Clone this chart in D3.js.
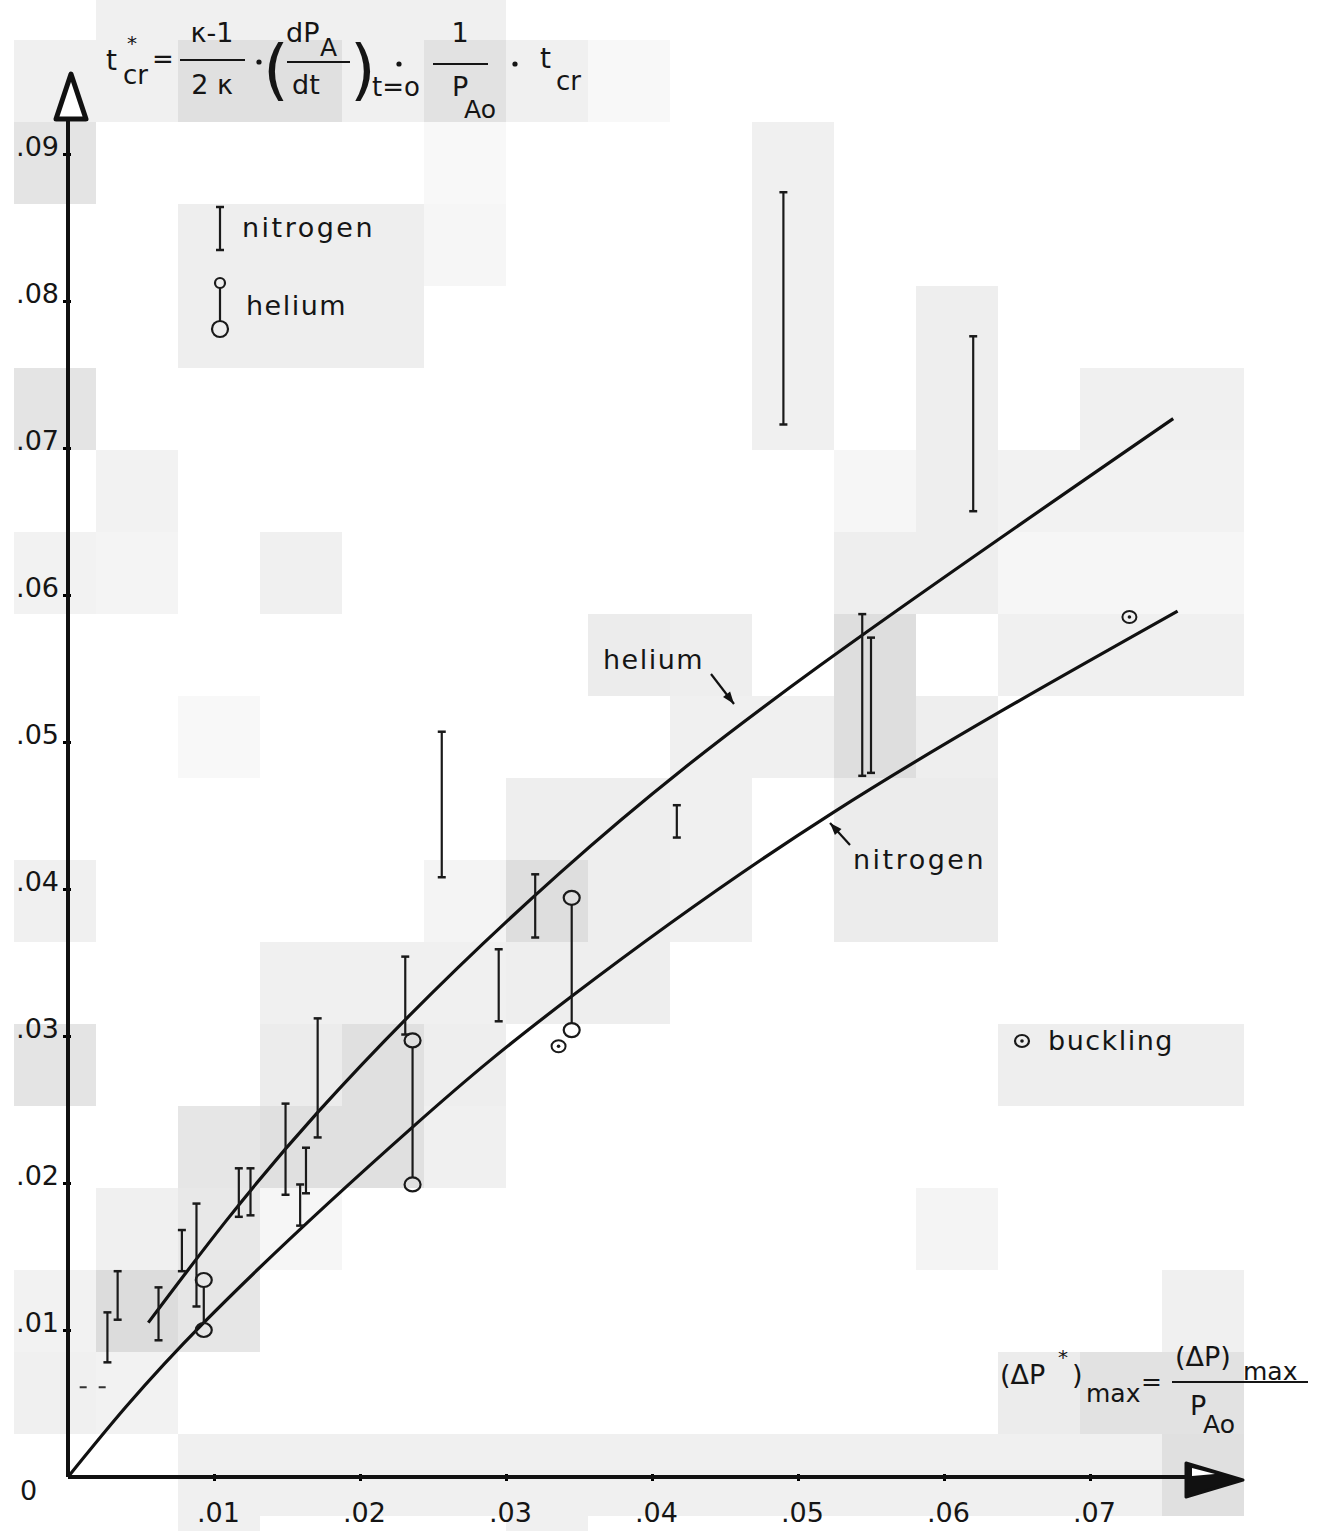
<!DOCTYPE html>
<html>
<head>
<meta charset="utf-8">
<script src="https://cdn.jsdelivr.net/npm/d3@7"></script>
<style>
  body { margin: 0; background: #fff; }
  text { font-family: "DejaVu Sans", sans-serif; fill: #151515; }
</style>
</head>
<body>
<svg id="chart" width="1319" height="1531"></svg>
<script>
// values
const xTicks = [0.01, 0.02, 0.03, 0.04, 0.05, 0.06, 0.07];
const yTicks = [0.01, 0.02, 0.03, 0.04, 0.05, 0.06, 0.07, 0.08, 0.09];

// nitrogen runs: [dP*max, t*cr low, t*cr high]
const nitrogenBars = [
  [0.0027, 0.0078, 0.0112], [0.0034, 0.0107, 0.0140], [0.0062, 0.0093, 0.0129],
  [0.0078, 0.0140, 0.0168], [0.0088, 0.0116, 0.0186], [0.0117, 0.0177, 0.0210],
  [0.0125, 0.0178, 0.0210], [0.0149, 0.0192, 0.0254], [0.0163, 0.0193, 0.0224],
  [0.0159, 0.0171, 0.0199], [0.0171, 0.0231, 0.0312], [0.0231, 0.0301, 0.0354],
  [0.0256, 0.0408, 0.0507], [0.0295, 0.0310, 0.0359], [0.0320, 0.0367, 0.0410],
  [0.0417, 0.0435, 0.0457], [0.0490, 0.0716, 0.0874], [0.0544, 0.0477, 0.0587],
  [0.0550, 0.0479, 0.0571], [0.0620, 0.0657, 0.0776]
];
// helium runs: [dP*max, t*cr low, t*cr high]
const heliumBars = [
  [0.0093, 0.0100, 0.0134], [0.0236, 0.0199, 0.0297], [0.0345, 0.0304, 0.0394]
];
const bucklingPoints = [[0.0336, 0.0293], [0.0727, 0.0585]];

const heliumCurve = [
  [0.0055, 0.0105], [0.0171, 0.0248], [0.0337, 0.0411], [0.0515, 0.0552], [0.0757, 0.0720]
];
const nitrogenCurve = [
  [0, 0], [0.0093, 0.0105], [0.0236, 0.0238], [0.0345, 0.0327], [0.0524, 0.0452], [0.0760, 0.0589]
];

// scan background tiles: [column, row, grey]
const tiles = [
  [1,-1,240],[2,-1,240],[3,-1,240],[4,-1,240],[5,-1,240],
  [0,0,240],[1,0,240],[2,0,224],[3,0,224],[4,0,240],[5,0,226],[6,0,240],[7,0,248],
  [0,1,228],[5,1,248],[9,1,240],
  [2,2,238],[3,2,238],[4,2,238],[5,2,246],[9,2,240],
  [2,3,238],[3,3,238],[4,3,238],[9,3,240],[11,3,238],
  [0,4,228],[9,4,240],[11,4,238],[13,4,240],[14,4,240],
  [1,5,242],[10,5,246],[11,5,238],[12,5,242],[13,5,242],[14,5,242],
  [0,6,242],[1,6,244],[3,6,240],[10,6,238],[11,6,238],[12,6,246],[13,6,246],[14,6,246],
  [7,7,236],[8,7,238],[10,7,222],[12,7,240],[13,7,240],[14,7,240],
  [2,8,248],[8,8,240],[9,8,240],[10,8,222],[11,8,238],
  [6,9,238],[7,9,238],[8,9,240],[10,9,236],[11,9,236],
  [0,10,240],[5,10,244],[6,10,222],[7,10,238],[8,10,240],[10,10,236],[11,10,236],
  [3,11,240],[4,11,240],[5,11,240],[6,11,238],[7,11,238],
  [0,12,228],[3,12,236],[4,12,224],[5,12,238],[12,12,238],[13,12,238],[14,12,238],
  [2,13,230],[3,13,224],[4,13,224],[5,13,240],
  [1,14,240],[2,14,232],[3,14,246],[11,14,244],
  [0,15,242],[1,15,220],[2,15,230],[14,15,240],
  [0,16,240],[1,16,242],[12,16,236],[13,16,226],[14,16,226],
  [2,17,240],[3,17,240],[4,17,240],[5,17,240],[6,17,240],[7,17,240],[8,17,240],
  [9,17,240],[10,17,240],[11,17,240],[12,17,240],[13,17,240],[14,17,224],
  [2,18,240],[6,18,240]
];

const svg = d3.select("#chart");
const x = d3.scaleLinear().domain([0, 0.08]).range([68, 1236]);
const y = d3.scaleLinear().domain([0, 0.1]).range([1477, 7]);
const fmt = d => d3.format(".2f")(d).replace(/^0/, "");

svg.append("g").selectAll("rect").data(tiles).join("rect")
  .attr("x", d => 14 + 82 * d[0]).attr("y", d => 40 + 82 * d[1])
  .attr("width", 82).attr("height", 82)
  .attr("fill", d => d3.rgb(d[2], d[2], d[2]));

// axes
const xAxis = d3.axisBottom(x).tickValues(xTicks).tickFormat(fmt).tickSize(4).tickPadding(22);
const gx = svg.append("g").attr("transform", `translate(0,${y(0)})`).call(xAxis);
gx.select(".domain").remove();
gx.selectAll("text").attr("font-size", 27).attr("dx", 4).style("font-family", "DejaVu Sans");
gx.selectAll("line").attr("stroke-width", 3).attr("y1", -3);

const yAxis = d3.axisLeft(y).tickValues(yTicks).tickFormat(fmt).tickSize(5).tickPadding(8);
const gy = svg.append("g").attr("transform", `translate(${x(0)},0)`).call(yAxis);
gy.select(".domain").remove();
gy.selectAll("text").attr("font-size", 27).attr("dy", "0.05em").attr("dx", 4).style("font-family", "DejaVu Sans");
gy.selectAll("line").attr("stroke-width", 3).attr("x1", 3);

svg.append("line").attr("x1", x(0)).attr("x2", 1200).attr("y1", y(0)).attr("y2", y(0))
  .attr("stroke", "#111").attr("stroke-width", 4);
svg.append("line").attr("x1", x(0)).attr("x2", x(0)).attr("y1", y(0)).attr("y2", 110)
  .attr("stroke", "#111").attr("stroke-width", 4);
svg.append("path").attr("d", "M1186,1463 L1243,1480 L1186,1497 Z")
  .attr("fill", "#111").attr("stroke", "#111").attr("stroke-width", 3).attr("stroke-linejoin", "round");
svg.append("path").attr("d", "M1192,1468 L1215,1474 L1192,1476 Z").attr("fill", "#fff");
svg.append("path").attr("d", `M${x(0) - 12},119 L${x(0) + 3},74 L${x(0) + 18},119 Z`)
  .attr("fill", "#fff").attr("stroke", "#111").attr("stroke-width", 5).attr("stroke-linejoin", "round");
svg.append("text").attr("x", 20).attr("y", 1500).attr("font-size", 27).text("0");
svg.append("line").attr("x1", x(0.0008)).attr("x2", x(0.0026)).attr("y1", y(0.0061)).attr("y2", y(0.0061))
  .attr("stroke", "#333").attr("stroke-width", 2).attr("stroke-dasharray", "7,12");

// fitted curves
const line = d3.line().x(d => x(d[0])).y(d => y(d[1])).curve(d3.curveNatural);
[heliumCurve, nitrogenCurve].forEach(c => {
  svg.append("path").attr("d", line(c)).attr("fill", "none")
    .attr("stroke", "#111").attr("stroke-width", 3.2);
});

// nitrogen bars
const nb = svg.append("g").attr("stroke", "#1a1a1a");
nb.selectAll("line.bar").data(nitrogenBars).join("line").attr("class", "bar")
  .attr("x1", d => x(d[0])).attr("x2", d => x(d[0]))
  .attr("y1", d => y(d[1])).attr("y2", d => y(d[2])).attr("stroke-width", 2.2);
[1, 2].forEach(i => {
  nb.selectAll(`line.cap${i}`).data(nitrogenBars).join("line").attr("class", `cap${i}`)
    .attr("x1", d => x(d[0]) - 4).attr("x2", d => x(d[0]) + 4)
    .attr("y1", d => y(d[i])).attr("y2", d => y(d[i])).attr("stroke-width", 2.5);
});

// helium bars with circles
const hb = svg.append("g").attr("stroke", "#1a1a1a").attr("fill", "none");
hb.selectAll("line").data(heliumBars).join("line")
  .attr("x1", d => x(d[0])).attr("x2", d => x(d[0]))
  .attr("y1", d => y(d[1]) - 7).attr("y2", d => y(d[2]) + 7).attr("stroke-width", 2.2);
[1, 2].forEach(i => {
  hb.selectAll(`ellipse.e${i}`).data(heliumBars).join("ellipse").attr("class", `e${i}`)
    .attr("cx", d => x(d[0])).attr("cy", d => y(d[i]))
    .attr("rx", 8).attr("ry", 7).attr("stroke-width", 2.2);
});

// buckling
const bk = svg.append("g");
bk.selectAll("ellipse").data(bucklingPoints).join("ellipse")
  .attr("cx", d => x(d[0])).attr("cy", d => y(d[1])).attr("rx", 7).attr("ry", 6)
  .attr("fill", "none").attr("stroke", "#1a1a1a").attr("stroke-width", 2);
bk.selectAll("circle").data(bucklingPoints).join("circle")
  .attr("cx", d => x(d[0])).attr("cy", d => y(d[1])).attr("r", 1.8).attr("fill", "#1a1a1a");

// legend
const lg = svg.append("g").attr("stroke", "#1a1a1a").attr("fill", "none").attr("stroke-width", 2.2);
lg.append("line").attr("x1", 220).attr("x2", 220).attr("y1", 207).attr("y2", 250);
lg.append("line").attr("x1", 216).attr("x2", 224).attr("y1", 207).attr("y2", 207).attr("stroke-width", 2.5);
lg.append("line").attr("x1", 216).attr("x2", 224).attr("y1", 250).attr("y2", 250).attr("stroke-width", 2.5);
lg.append("circle").attr("cx", 220).attr("cy", 283).attr("r", 5);
lg.append("line").attr("x1", 220).attr("x2", 220).attr("y1", 288).attr("y2", 321);
lg.append("circle").attr("cx", 220).attr("cy", 329).attr("r", 8);
lg.append("ellipse").attr("cx", 1022).attr("cy", 1041).attr("rx", 7).attr("ry", 6);
svg.append("circle").attr("cx", 1022).attr("cy", 1041).attr("r", 1.8).attr("fill", "#1a1a1a");

const label = (tx, ty, s, size, ls) => svg.append("text").attr("x", tx).attr("y", ty)
  .attr("font-size", size || 27).attr("letter-spacing", ls || 0).text(s);
label(242, 237, "nitrogen", 27, 2.5);
label(246, 315, "helium", 27, 1.5);
label(603, 669, "helium", 27, 1.5);
label(853, 869, "nitrogen", 27, 2.5);
label(1048, 1050, "buckling", 27, 1.5);

// pointer arrows
const arrow = (x1, y1, x2, y2) => {
  svg.append("line").attr("x1", x1).attr("y1", y1).attr("x2", x2).attr("y2", y2)
    .attr("stroke", "#111").attr("stroke-width", 2.2);
  const a = Math.atan2(y2 - y1, x2 - x1), L = 13, w = 0.35;
  svg.append("path").attr("d", `M${x2},${y2} L${x2 - L * Math.cos(a - w)},${y2 - L * Math.sin(a - w)} L${x2 - L * Math.cos(a + w)},${y2 - L * Math.sin(a + w)} Z`)
    .attr("fill", "#111");
};
arrow(711, 674, 734, 704);
arrow(850, 845, 830, 823);

// ordinate formula
const f = svg.append("g");
const ft = (tx, ty, s, size, anchor) => f.append("text").attr("x", tx).attr("y", ty)
  .attr("font-size", size || 27).attr("text-anchor", anchor || "start").text(s);
const bar = (x1, x2, yy) => f.append("line").attr("x1", x1).attr("x2", x2).attr("y1", yy).attr("y2", yy)
  .attr("stroke", "#151515").attr("stroke-width", 2.2);
const dot = (cx, cy) => f.append("circle").attr("cx", cx).attr("cy", cy).attr("r", 2.6).attr("fill", "#151515");
ft(106, 70, "t", 28); ft(123, 84, "cr", 26); ft(127, 50, "*", 20);
ft(152, 68, "=", 26);
ft(212, 42, "κ-1", 27, "middle"); bar(180, 245, 60); ft(212, 94, "2 κ", 27, "middle");
dot(259, 62);
ft(263, 92, "(", 66); ft(350, 92, ")", 66);
ft(286, 42, "dP", 27); ft(320, 56, "A", 25); bar(287, 350, 62); ft(292, 94, "dt", 27);
ft(372, 96, "t=o", 26); dot(399, 64);
ft(460, 42, "1", 27, "middle"); bar(433, 488, 64); ft(452, 96, "P", 27); ft(464, 118, "Ao", 25);
dot(515, 64); ft(540, 68, "t", 28); ft(556, 90, "cr", 26);

// abscissa formula
ft(1000, 1384, "(ΔP", 27); ft(1058, 1364, "*", 20); ft(1072, 1384, ")", 27);
ft(1086, 1402, "max", 25); ft(1141, 1390, "=", 25);
ft(1175, 1366, "(ΔP)", 27); ft(1243, 1380, "max", 25);
bar(1172, 1308, 1382);
ft(1190, 1415, "P", 27); ft(1203, 1433, "Ao", 25);
</script>
</body>
</html>
